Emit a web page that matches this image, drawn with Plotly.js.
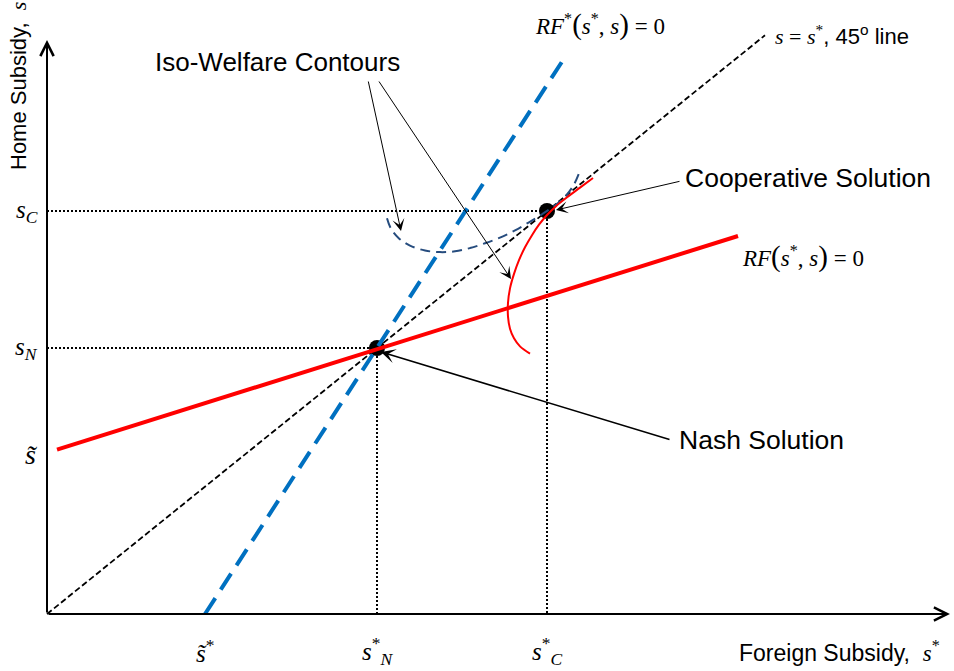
<!DOCTYPE html>
<html>
<head>
<meta charset="utf-8">
<script src="https://cdn.plot.ly/plotly-3.0.1.min.js"></script>
<style>html,body{margin:0;padding:0;background:#fff;}#chart{width:954px;height:671px;}</style>
</head>
<body>
<div id="chart"></div>
<script>
// ---- key values (economic units; 45-degree line is s = s*) ----
const sTilde = 2.04;        // home intercept of RF
const sTildeStar = 1.58;    // foreign intercept of RF*
const nashPoint = [3.30, 3.30];   // [s*, s]
const coopPoint = [5.00, 5.00];

// reaction functions
const rfX = [0.10, 6.91];
const rfY = [sTilde, 4.69];
const rfStarX = [sTildeStar, 5.18];
const rfStarY = [0.00, 6.91];
// 45 degree line
const diagX = [0.00, 7.18];
const diagY = [0.00, 7.18];

// iso-welfare contours
const isoBlueX = [3.40, 3.44, 3.52, 3.63, 3.78, 3.93, 4.08, 4.23, 4.38, 4.53, 4.68, 4.82, 4.95, 5.08, 5.19, 5.27, 5.33];
const isoBlueY = [4.91, 4.78, 4.66, 4.57, 4.51, 4.49, 4.50, 4.54, 4.60, 4.67, 4.76, 4.86, 4.96, 5.07, 5.19, 5.33, 5.50];
const isoRedX = [5.46, 5.33, 5.20, 5.09, 5.00, 4.92, 4.85, 4.78, 4.72, 4.67, 4.63, 4.61, 4.61, 4.63, 4.67, 4.73, 4.83];
const isoRedY = [5.41, 5.29, 5.17, 5.06, 4.95, 4.83, 4.70, 4.55, 4.39, 4.22, 4.04, 3.86, 3.69, 3.54, 3.42, 3.32, 3.23];

// tick labels
const xTickVals = [sTildeStar, nashPoint[0], coopPoint[0]];
const xTickText = ['<i>s\u0303</i><sup>*</sup>', '<i>s</i><sup>*</sup><sub><i>N</i></sub>', '<i>s</i><sup>*</sup><sub><i>C</i></sub>'];
const yTickVals = [coopPoint[1], nashPoint[1], sTilde];
const yTickText = ['<i>s</i><sub><i>C</i></sub>', '<i>s</i><sub><i>N</i></sub>', '<i>s\u0303</i>'];

// ---- layout helpers (pixel -> data for text placement) ----
const X = px => (px - 47) / 100;
const Y = py => (614 - py) / 80.6;
const SANS = 'Liberation Sans, Arial, sans-serif';
const SERIF = 'Liberation Serif, Times New Roman, serif';
const DOT = '2px,2px';
const P = c => '<span style="font-size:29px">' + c + '</span>';

const traces = [];
// dotted guide lines
[nashPoint, coopPoint].forEach(p => {
  traces.push({x: [0, p[0]], y: [p[1], p[1]], mode: 'lines', line: {color: '#000', width: 2, dash: DOT}, hoverinfo: 'skip'});
  traces.push({x: [p[0], p[0]], y: [p[1], 0], mode: 'lines', line: {color: '#000', width: 2, dash: DOT}, hoverinfo: 'skip'});
});
// equilibrium markers
traces.push({x: [nashPoint[0], coopPoint[0]], y: [nashPoint[1], coopPoint[1]], mode: 'markers',
  marker: {color: '#000', size: 16, symbol: 'circle'}, hoverinfo: 'skip'});
// 45 line
traces.push({x: diagX, y: diagY, mode: 'lines', line: {color: '#000', width: 1.8, dash: '6px,3px'}, hoverinfo: 'skip'});
// RF*
traces.push({x: rfStarX, y: rfStarY, mode: 'lines', line: {color: '#0070C0', width: 4, dash: '19px,10px'}, hoverinfo: 'skip'});
// RF
traces.push({x: rfX, y: rfY, mode: 'lines', line: {color: '#FF0000', width: 4}, hoverinfo: 'skip'});
// iso-welfare contours
traces.push({x: isoBlueX, y: isoBlueY, mode: 'lines', line: {color: '#264C7E', width: 2, dash: '10px,6px', shape: 'spline'}, hoverinfo: 'skip'});
traces.push({x: isoRedX, y: isoRedY, mode: 'lines', line: {color: '#FF0000', width: 2, shape: 'spline'}, hoverinfo: 'skip'});

const ann = [];
// axes arrows
ann.push({x: 0, y: Y(40), ax: 0, ay: 0, axref: 'x', ayref: 'y', xref: 'x', yref: 'y', text: '', showarrow: true,
  arrowhead: 5, arrowsize: 1.3, arrowwidth: 2, arrowcolor: '#000'});
ann.push({x: X(950), y: 0, ax: 0, ay: 0, axref: 'x', ayref: 'y', xref: 'x', yref: 'y', text: '', showarrow: true,
  arrowhead: 5, arrowsize: 1.3, arrowwidth: 2, arrowcolor: '#000'});
// tick labels
xTickVals.forEach((v, i) => ann.push({x: v, y: Y(651), text: xTickText[i], showarrow: false,
  font: {family: SERIF, size: 25, color: '#000'}, xanchor: 'center', yanchor: 'middle'}));
yTickVals.forEach((v, i) => ann.push({x: X(40), y: v + (i === 2 ? -0.06 : 0), text: yTickText[i], showarrow: false,
  font: {family: SERIF, size: i === 2 ? 28 : 25, color: '#000'}, xanchor: 'right', yanchor: 'middle'}));
// axis titles
ann.push({x: X(18), y: Y(86), text: 'Home Subsidy,  <span style="font-family:Liberation Serif"><i>s</i></span>', textangle: -90, showarrow: false,
  font: {family: SANS, size: 22, color: '#000'}, xanchor: 'center', yanchor: 'middle'});
ann.push({x: X(737), y: Y(651), text: 'Foreign Subsidy,  <span style="font-family:Liberation Serif"><i>s</i><sup>*</sup></span>', showarrow: false,
  font: {family: SANS, size: 23, color: '#000'}, xanchor: 'left', yanchor: 'middle'});
// curve labels
ann.push({x: X(533), y: Y(24), text: '<i>RF</i><sup>*</sup>' + P('(') + '<i>s</i><sup>*</sup>, <i>s</i>' + P(')') + ' = 0', showarrow: false,
  font: {family: SERIF, size: 23, color: '#000'}, xanchor: 'left', yanchor: 'middle'});
ann.push({x: X(773), y: Y(35), text: '<span style="font-family:Liberation Serif"><i>s</i> = <i>s</i><sup>*</sup></span>, 45<sup>o</sup> line', showarrow: false,
  font: {family: SANS, size: 22, color: '#000'}, xanchor: 'left', yanchor: 'middle'});
ann.push({x: X(740), y: Y(256), text: '<i>RF</i>' + P('(') + '<i>s</i><sup>*</sup>, <i>s</i>' + P(')') + ' = 0', showarrow: false,
  font: {family: SERIF, size: 23, color: '#000'}, xanchor: 'left', yanchor: 'middle'});
// callouts
ann.push({x: X(277), y: Y(62), text: 'Iso-Welfare Contours', showarrow: false,
  font: {family: SANS, size: 26, color: '#000'}, xanchor: 'center', yanchor: 'middle'});
ann.push({x: X(401), y: Y(231), ax: X(368), ay: Y(80), axref: 'x', ayref: 'y', text: '', showarrow: true,
  arrowhead: 3, arrowsize: 2, arrowwidth: 1, arrowcolor: '#000'});
ann.push({x: X(511), y: Y(279), ax: X(378), ay: Y(80), axref: 'x', ayref: 'y', text: '', showarrow: true,
  arrowhead: 3, arrowsize: 2, arrowwidth: 1, arrowcolor: '#000'});
ann.push({x: X(683), y: Y(178), text: 'Cooperative Solution', showarrow: false,
  font: {family: SANS, size: 26.5, color: '#000'}, xanchor: 'left', yanchor: 'middle'});
ann.push({x: X(556), y: Y(210), ax: X(681), ay: Y(181), axref: 'x', ayref: 'y', text: '', showarrow: true,
  arrowhead: 3, arrowsize: 2, arrowwidth: 1, arrowcolor: '#000'});
ann.push({x: X(677), y: Y(440), text: 'Nash Solution', showarrow: false,
  font: {family: SANS, size: 26.5, color: '#000'}, xanchor: 'left', yanchor: 'middle'});
ann.push({x: X(381), y: Y(352), ax: X(671), ay: Y(440), axref: 'x', ayref: 'y', text: '', showarrow: true,
  arrowhead: 3, arrowsize: 1.5, arrowwidth: 1.6, arrowcolor: '#000'});

const layout = {
  width: 954, height: 671, autosize: false,
  margin: {l: 0, r: 0, t: 0, b: 0, pad: 0},
  paper_bgcolor: '#fff', plot_bgcolor: '#fff',
  showlegend: false,
  xaxis: {range: [X(0), X(954)], visible: false, fixedrange: true},
  yaxis: {range: [Y(671), Y(0)], visible: false, fixedrange: true},
  annotations: ann
};
Plotly.newPlot('chart', traces, layout, {staticPlot: true, displayModeBar: false});
</script>
</body>
</html>
